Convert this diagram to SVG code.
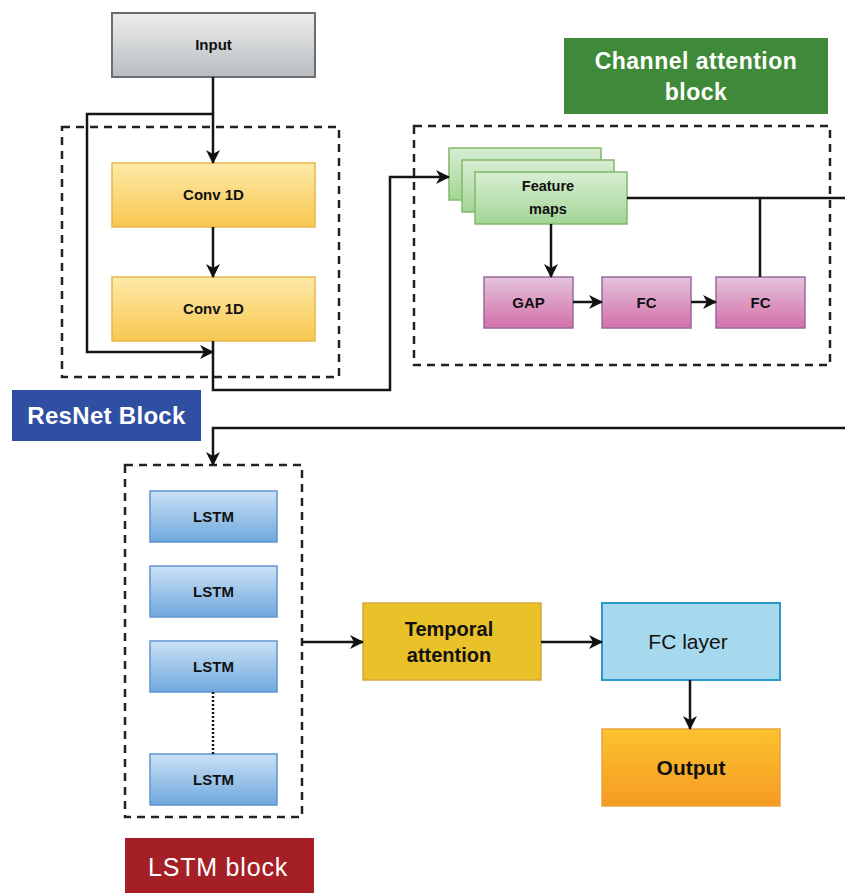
<svg xmlns="http://www.w3.org/2000/svg" width="845" height="893" viewBox="0 0 845 893">
  <defs>
    <linearGradient id="gGray" x1="0" y1="0" x2="0" y2="1">
      <stop offset="0" stop-color="#eceded"/>
      <stop offset="1" stop-color="#b9bdc0"/>
    </linearGradient>
    <linearGradient id="gYellow" x1="0" y1="0" x2="0" y2="1">
      <stop offset="0" stop-color="#fde9a8"/>
      <stop offset="1" stop-color="#f8c850"/>
    </linearGradient>
    <linearGradient id="gGreen" x1="0" y1="0" x2="0" y2="1">
      <stop offset="0" stop-color="#d8eed3"/>
      <stop offset="1" stop-color="#a3d595"/>
    </linearGradient>
    <linearGradient id="gPink" x1="0" y1="0" x2="0" y2="1">
      <stop offset="0" stop-color="#e4c3dc"/>
      <stop offset="1" stop-color="#d470a8"/>
    </linearGradient>
    <linearGradient id="gBlue" x1="0" y1="0" x2="0" y2="1">
      <stop offset="0" stop-color="#cbe1f5"/>
      <stop offset="1" stop-color="#6fa8de"/>
    </linearGradient>
    <linearGradient id="gOrange" x1="0" y1="0" x2="0" y2="1">
      <stop offset="0" stop-color="#fcc22e"/>
      <stop offset="1" stop-color="#f59b22"/>
    </linearGradient>
    <marker id="arrow" viewBox="0 0 14 14" refX="13" refY="7" markerWidth="14" markerHeight="14" markerUnits="userSpaceOnUse" orient="auto">
      <path d="M0,0 L14,7 L0,14 L4,7 Z" fill="#111"/>
    </marker>
    <style>
      .t { font-family: "Liberation Sans", Arial, sans-serif; text-anchor: middle; fill: #111; }
      .b { font-weight: bold; }
      .lbl { font-family: "Liberation Sans", Arial, sans-serif; text-anchor: middle; fill: #fff; }
      .dash { fill: none; stroke: #222; stroke-width: 2.5; stroke-dasharray: 8 6; }
      .wire { fill: none; stroke: #151515; stroke-width: 2.5; }
      .gray { fill: url(#gGray); stroke: #6b6e70; stroke-width: 2; }
      .yel { fill: url(#gYellow); stroke: #e8b64a; stroke-width: 1.5; }
      .grn { fill: url(#gGreen); stroke: #82b86a; stroke-width: 1.5; }
      .pnk { fill: url(#gPink); stroke: #9a6a9e; stroke-width: 1.5; }
      .blu { fill: url(#gBlue); stroke: #5f95d0; stroke-width: 1.5; }
    </style>
  </defs>

  <!-- grouping frames -->
  <rect class="dash" x="62" y="127" width="277" height="250"/>
  <rect class="dash" x="414" y="126" width="416" height="239"/>
  <rect class="dash" x="125" y="465" width="177" height="352"/>

  <!-- block labels -->
  <g id="label-resnet">
    <rect x="12" y="390" width="189" height="51" fill="#2f4fa3"/>
    <text class="lbl b" x="106.5" y="424" font-size="24" letter-spacing="0.3">ResNet Block</text>
  </g>
  <g id="label-channel">
    <rect x="564" y="38" width="264" height="76" fill="#3f8a39"/>
    <text class="lbl b" x="696" y="69" font-size="23" letter-spacing="0.5">Channel  attention</text>
    <text class="lbl b" x="696" y="100" font-size="23" letter-spacing="0.5">block</text>
  </g>
  <g id="label-lstm">
    <rect x="125" y="838" width="189" height="55" fill="#a51f27"/>
    <text class="lbl" x="218" y="876" font-size="25" letter-spacing="0.8">LSTM block</text>
  </g>

  <!-- nodes -->
  <g id="input">
    <rect class="gray" x="112" y="13" width="203" height="64"/>
    <text class="t b" x="213.5" y="50" font-size="15">Input</text>
  </g>
  <g id="conv1">
    <rect class="yel" x="112" y="163" width="203" height="64"/>
    <text class="t b" x="213.5" y="200" font-size="15">Conv 1D</text>
  </g>
  <g id="conv2">
    <rect class="yel" x="112" y="277" width="203" height="64"/>
    <text class="t b" x="213.5" y="314" font-size="15">Conv 1D</text>
  </g>
  <g id="feature-maps">
    <rect class="grn" x="449" y="148" width="152" height="52"/>
    <rect class="grn" x="462" y="160" width="152" height="52"/>
    <rect class="grn" x="475" y="172" width="152" height="52"/>
    <text class="t b" x="548" y="191" font-size="14.5">Feature</text>
    <text class="t b" x="548" y="214" font-size="14.5">maps</text>
  </g>
  <g id="gap">
    <rect class="pnk" x="484" y="277" width="89" height="51"/>
    <text class="t b" x="528.5" y="308" font-size="15">GAP</text>
  </g>
  <g id="fc1">
    <rect class="pnk" x="602" y="277" width="89" height="51"/>
    <text class="t b" x="646.5" y="308" font-size="15">FC</text>
  </g>
  <g id="fc2">
    <rect class="pnk" x="716" y="277" width="89" height="51"/>
    <text class="t b" x="760.5" y="308" font-size="15">FC</text>
  </g>
  <g id="lstm1">
    <rect class="blu" x="150" y="491" width="127" height="51"/>
    <text class="t b" x="213.5" y="522" font-size="15">LSTM</text>
  </g>
  <g id="lstm2">
    <rect class="blu" x="150" y="566" width="127" height="51"/>
    <text class="t b" x="213.5" y="597" font-size="15">LSTM</text>
  </g>
  <g id="lstm3">
    <rect class="blu" x="150" y="641" width="127" height="51"/>
    <text class="t b" x="213.5" y="672" font-size="15">LSTM</text>
  </g>
  <g id="lstm4">
    <rect class="blu" x="150" y="754" width="127" height="51"/>
    <text class="t b" x="213.5" y="785" font-size="15">LSTM</text>
  </g>
  <g id="temporal-attention">
    <rect x="363" y="603" width="178" height="77" fill="#e9c229" stroke="#d6a93a" stroke-width="1.5"/>
    <text class="t b" x="449" y="636" font-size="20">Temporal</text>
    <text class="t b" x="449" y="662" font-size="20">attention</text>
  </g>
  <g id="fc-layer">
    <rect x="602" y="603" width="178" height="77" fill="#a7d9ee" stroke="#2a9acb" stroke-width="2"/>
    <text class="t" x="688" y="649" font-size="21">FC layer</text>
  </g>
  <g id="output">
    <rect x="602" y="729" width="178" height="77" fill="url(#gOrange)" stroke="#e7a53c" stroke-width="1.5"/>
    <text class="t b" x="691" y="775" font-size="21">Output</text>
  </g>

  <!-- connectors -->
  <g id="connectors">
    <path class="wire" d="M213,77 V163" marker-end="url(#arrow)"/>
    <path class="wire" d="M213,114 H87 V352 H213" marker-end="url(#arrow)"/>
    <path class="wire" d="M213,227 V277" marker-end="url(#arrow)"/>
    <path class="wire" d="M213,341 V390 H390 V177 H449" marker-end="url(#arrow)"/>
    <path class="wire" d="M551,224 V277" marker-end="url(#arrow)"/>
    <path class="wire" d="M573,302 H602" marker-end="url(#arrow)"/>
    <path class="wire" d="M691,302 H716" marker-end="url(#arrow)"/>
    <path class="wire" d="M627,198 H845"/>
    <path class="wire" d="M760,277 V198"/>
    <path class="wire" d="M845,428 H213 V465" marker-end="url(#arrow)"/>
    <path class="wire" d="M213,692 V754" stroke-width="2" stroke-dasharray="2 2"/>
    <path class="wire" d="M302,642 H363" marker-end="url(#arrow)"/>
    <path class="wire" d="M541,642 H602" marker-end="url(#arrow)"/>
    <path class="wire" d="M690,680 V729" marker-end="url(#arrow)"/>
  </g>
</svg>
